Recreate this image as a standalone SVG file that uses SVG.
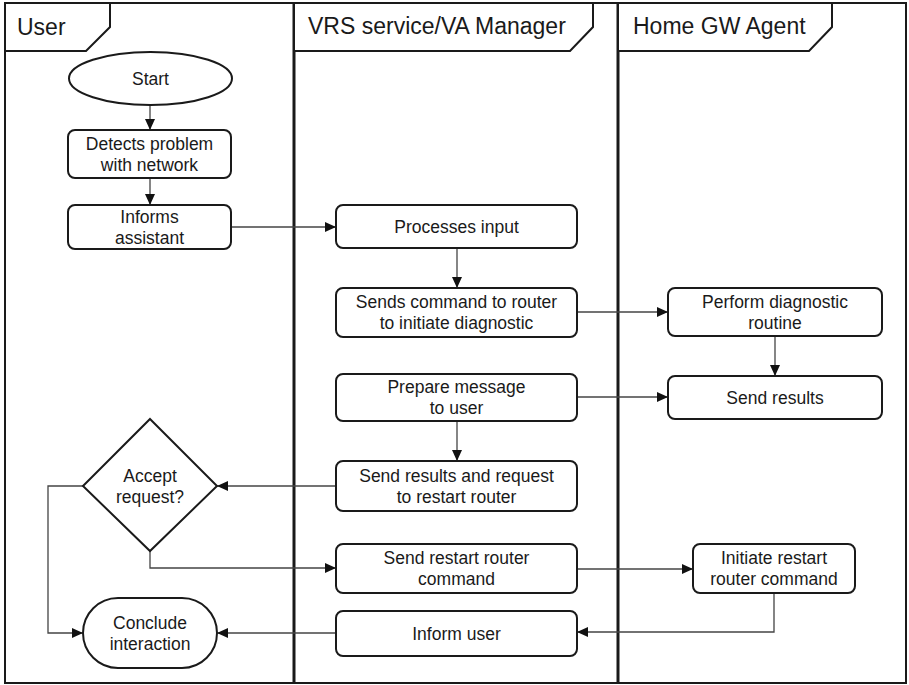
<svg xmlns="http://www.w3.org/2000/svg" width="909" height="685" viewBox="0 0 909 685">
<defs>
<marker id="ah" markerUnits="userSpaceOnUse" markerWidth="12" markerHeight="10" refX="11" refY="5" orient="auto">
<path d="M0,0 L11,5 L0,10 z" fill="#111"/>
</marker>
<style>
.bx{fill:#fff;stroke:#1a1a1a;stroke-width:2}
.t{font-family:"Liberation Sans",Arial,sans-serif;font-size:17.5px;fill:#1a1a1a;text-anchor:middle}
.h{font-family:"Liberation Sans",Arial,sans-serif;font-size:23px;fill:#1a1a1a}
.c{fill:none;stroke:#444;stroke-width:1.3;marker-end:url(#ah)}
.c2{fill:none;stroke:#444;stroke-width:1.3}
.tab{fill:#fff;stroke:#1a1a1a;stroke-width:2}
.lane{stroke:#1a1a1a;stroke-width:3}
</style>
</defs>
<rect x="0" y="0" width="909" height="685" fill="#fff"/>
<g id="frame">
<rect x="5" y="3" width="901" height="680" fill="none" stroke="#1a1a1a" stroke-width="2"/>
<line class="lane" x1="294" y1="3" x2="294" y2="683"/>
<line class="lane" x1="618" y1="3" x2="618" y2="683"/>
</g>
<g id="lane-user">
<path class="tab" d="M5,3 H110 V27 L86,51 H5 Z"/>
<text class="h" x="17" y="35">User</text>
</g>
<g id="lane-vrs">
<path class="tab" d="M294,3 H593 V27 L570,51 H294 Z"/>
<text class="h" x="308" y="34">VRS service/VA Manager</text>
</g>
<g id="lane-gw">
<path class="tab" d="M618,3 H832 V27 L809,51 H618 Z"/>
<text class="h" x="633" y="34">Home GW Agent</text>
</g>
<g id="connectors">
<path class="c" d="M150,105 V130"/>
<path class="c" d="M150,178 V205"/>
<path class="c" d="M231,227 H336"/>
<path class="c" d="M457,248 V288"/>
<path class="c" d="M577,312 H668"/>
<path class="c" d="M775,336 V376"/>
<path class="c" d="M577,397 H668"/>
<path class="c" d="M457,421 V461"/>
<path class="c" d="M336,486 H217"/>
<path class="c" d="M83,486 H48 V633 H83"/>
<path class="c" d="M150,551 V568 H336"/>
<path class="c" d="M577,569 H693"/>
<path class="c" d="M774,593 V632 H577"/>
<path class="c" d="M336,633 H217"/>
</g>
<g id="start">
<ellipse class="bx" cx="150.5" cy="78.5" rx="81.5" ry="26.5"/>
<text class="t" x="150.5" y="85">Start</text>
</g>
<g id="detects">
<rect class="bx" x="68" y="130" width="163" height="48" rx="7"/>
<text class="t" x="149.5" y="149.5">Detects problem</text>
<text class="t" x="149.5" y="170.5">with network</text>
</g>
<g id="informs">
<rect class="bx" x="68" y="205" width="163" height="44" rx="7"/>
<text class="t" x="149.5" y="222.5">Informs</text>
<text class="t" x="149.5" y="243.5">assistant</text>
</g>
<g id="processes">
<rect class="bx" x="336" y="205" width="241" height="43" rx="7"/>
<text class="t" x="456.5" y="233">Processes input</text>
</g>
<g id="sends-command">
<rect class="bx" x="336" y="288" width="241" height="49" rx="7"/>
<text class="t" x="456.5" y="308">Sends command to router</text>
<text class="t" x="456.5" y="329">to initiate diagnostic</text>
</g>
<g id="perform">
<rect class="bx" x="668" y="288" width="214" height="48" rx="7"/>
<text class="t" x="775" y="307.5">Perform diagnostic</text>
<text class="t" x="775" y="328.5">routine</text>
</g>
<g id="prepare">
<rect class="bx" x="336" y="374" width="241" height="47" rx="7"/>
<text class="t" x="456.5" y="393">Prepare message</text>
<text class="t" x="456.5" y="414">to user</text>
</g>
<g id="send-results">
<rect class="bx" x="668" y="376" width="214" height="43" rx="7"/>
<text class="t" x="775" y="404">Send results</text>
</g>
<g id="send-request">
<rect class="bx" x="336" y="461" width="241" height="50" rx="7"/>
<text class="t" x="456.5" y="481.5">Send results and request</text>
<text class="t" x="456.5" y="502.5">to restart router</text>
</g>
<g id="accept">
<path class="bx" d="M150,419 L217,486 L150,551 L83,486 Z"/>
<text class="t" x="150" y="481.5">Accept</text>
<text class="t" x="150" y="502.5">request?</text>
</g>
<g id="send-restart">
<rect class="bx" x="336" y="544" width="241" height="49" rx="7"/>
<text class="t" x="456.5" y="564">Send restart router</text>
<text class="t" x="456.5" y="585">command</text>
</g>
<g id="initiate">
<rect class="bx" x="693" y="544" width="162" height="49" rx="7"/>
<text class="t" x="774" y="564">Initiate restart</text>
<text class="t" x="774" y="585">router command</text>
</g>
<g id="inform-user">
<rect class="bx" x="336" y="611" width="241" height="45" rx="7"/>
<text class="t" x="456.5" y="639.5">Inform user</text>
</g>
<g id="conclude">
<rect class="bx" x="83" y="598" width="134" height="70" rx="35"/>
<text class="t" x="150" y="628.5">Conclude</text>
<text class="t" x="150" y="649.5">interaction</text>
</g>
</svg>
